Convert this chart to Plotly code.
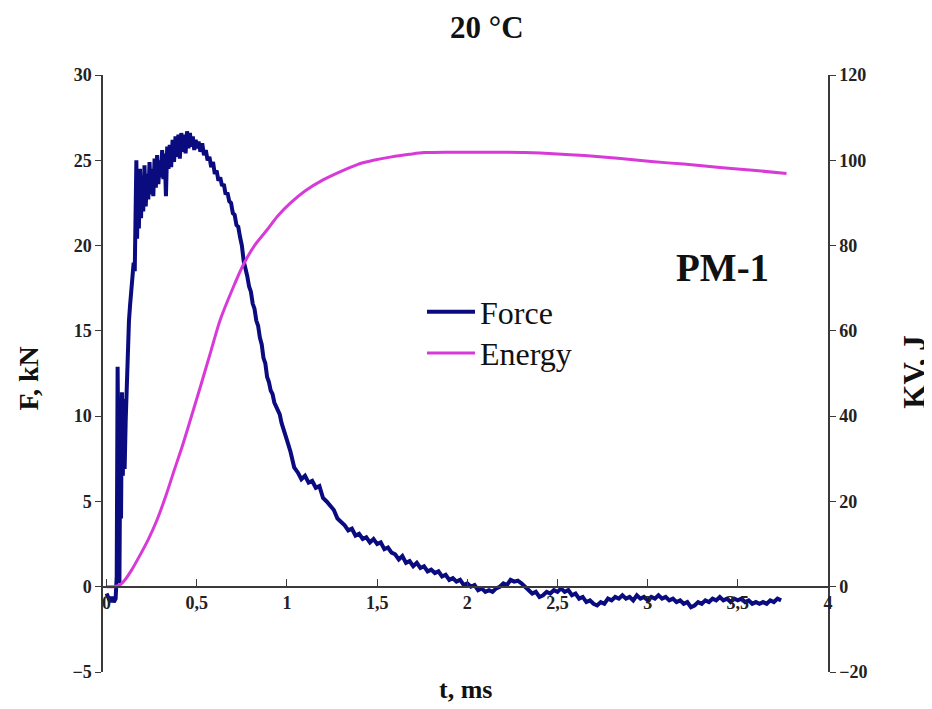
import plotly.graph_objects as go

# force curve, t in ms, F in kN
t_force = [0.000, 0.010, 0.020, 0.030, 0.040, 0.050, 0.056, 0.061, 0.066, 0.071,
           0.076, 0.080, 0.085, 0.090, 0.095, 0.100, 0.106, 0.112, 0.118, 0.124,
           0.130, 0.137, 0.144, 0.150, 0.156, 0.161, 0.165, 0.169, 0.174, 0.179,
           0.185, 0.191, 0.197, 0.203, 0.210, 0.217, 0.224, 0.231, 0.238, 0.245,
           0.252, 0.259, 0.266, 0.273, 0.280, 0.287, 0.294, 0.301, 0.308, 0.315,
           0.322, 0.329, 0.336, 0.343, 0.350, 0.358, 0.366, 0.374, 0.382, 0.390,
           0.398, 0.406, 0.414, 0.422, 0.430, 0.438, 0.446, 0.454, 0.462, 0.470,
           0.478, 0.486, 0.494, 0.502, 0.510, 0.520, 0.530, 0.540, 0.550, 0.560,
           0.570, 0.580, 0.590, 0.600, 0.610, 0.620, 0.630, 0.640, 0.650, 0.660,
           0.670, 0.680, 0.690, 0.700, 0.710, 0.720, 0.730, 0.740, 0.750, 0.760,
           0.770, 0.780, 0.790, 0.800, 0.810, 0.820, 0.830, 0.840, 0.850, 0.860,
           0.870, 0.880, 0.890, 0.900, 0.910, 0.920, 0.930, 0.940, 0.950, 0.960,
           0.970, 0.980, 0.990,
           1.00, 1.02, 1.04, 1.06, 1.08, 1.10, 1.12, 1.14, 1.16, 1.18,
           1.20, 1.22, 1.24, 1.26, 1.28, 1.30, 1.32, 1.34, 1.36, 1.38,
           1.40, 1.42, 1.44, 1.46, 1.48, 1.50, 1.52, 1.54, 1.56, 1.58,
           1.60, 1.62, 1.64, 1.66, 1.68, 1.70, 1.72, 1.74, 1.76, 1.78,
           1.80, 1.82, 1.84, 1.86, 1.88, 1.90, 1.92, 1.94, 1.96, 1.98,
           2.00, 2.02, 2.04, 2.06, 2.08, 2.10, 2.12, 2.14, 2.16, 2.18,
           2.20, 2.22, 2.24, 2.26, 2.28, 2.30, 2.32, 2.34, 2.36, 2.38,
           2.40, 2.42, 2.44, 2.46, 2.48, 2.50, 2.52, 2.54, 2.56, 2.58,
           2.60, 2.62, 2.64, 2.66, 2.68, 2.70, 2.72, 2.74, 2.76, 2.78,
           2.80, 2.82, 2.84, 2.86, 2.88, 2.90, 2.92, 2.94, 2.96, 2.98,
           3.00, 3.02, 3.04, 3.06, 3.08, 3.10, 3.12, 3.14, 3.16, 3.18,
           3.20, 3.22, 3.24, 3.26, 3.28, 3.30, 3.32, 3.34, 3.36, 3.38,
           3.40, 3.42, 3.44, 3.46, 3.48, 3.50, 3.52, 3.54, 3.56, 3.58,
           3.60, 3.62, 3.64, 3.66, 3.68, 3.70, 3.72, 3.74]
force = [-0.4, -0.7, -0.9, -0.6, -0.9, -0.7, 0.6, 12.9, 2.0, 0.2,
         8.5, 4.0, 11.4, 6.5, 11.0, 6.9, 9.8, 12.5, 14.0, 15.6,
         16.5, 17.4, 18.2, 19.0, 18.5, 21.5, 25.0, 20.4, 24.0, 21.0,
         24.5, 21.6, 24.1, 22.0, 24.7, 22.3, 24.2, 22.7, 24.9, 23.0,
         24.5, 22.9, 25.1, 23.4, 25.3, 23.6, 25.0, 24.0, 25.6, 23.9,
         25.4, 22.9, 25.8, 24.5, 25.9, 24.6, 26.2, 24.9, 26.4, 25.2,
         26.5, 25.1, 26.6, 25.5, 26.5, 25.4, 26.7, 25.7, 26.6, 25.8,
         26.4, 25.6, 26.2, 25.7, 26.1, 25.5, 26.0, 25.3, 25.6, 25.0,
         25.2, 24.6, 24.9, 24.2, 24.4, 23.8, 24.0, 23.5, 23.6, 23.0,
         23.1, 22.6, 22.5, 21.9, 21.8, 21.2, 21.1, 20.5, 20.0, 19.1,
         18.7, 18.2, 17.6, 17.3, 16.6, 16.3, 15.6, 15.3, 14.6, 14.2,
         13.4, 13.1, 12.3, 12.0, 11.5, 11.3, 10.8, 10.6, 10.3, 10.1,
         9.6, 9.3, 8.9,
         8.6, 7.9, 7.0, 6.7, 6.3, 6.5, 6.1, 6.2, 5.8, 5.9,
         5.2, 5.0, 4.7, 4.5, 4.0, 3.8, 3.6, 3.3, 3.4, 3.0,
         3.1, 2.8, 2.9, 2.6, 2.8, 2.5, 2.6, 2.2, 2.3, 2.0,
         1.9, 1.6, 1.8, 1.4, 1.5, 1.2, 1.4, 1.1, 1.2, 0.9,
         1.0, 0.8, 0.9, 0.6, 0.7, 0.4, 0.5, 0.3, 0.4, 0.1,
         0.2, 0.0, 0.1, -0.2, -0.1, -0.3, -0.2, -0.3, -0.1, 0.0,
         0.2, 0.1, 0.4, 0.3, 0.35, 0.2, 0.0, -0.2, -0.4, -0.3,
         -0.6, -0.5, -0.3, -0.4, -0.2, -0.3, -0.1, -0.3, -0.2, -0.5,
         -0.4, -0.7, -0.6, -0.9, -0.8, -1.0, -1.1, -0.9, -1.0, -0.7,
         -0.8, -0.6, -0.7, -0.5, -0.7, -0.6, -0.8, -0.5, -0.7, -0.6,
         -0.8, -0.6, -0.7, -0.5, -0.7, -0.6, -0.8, -0.7, -0.9, -0.8,
         -1.0, -0.9, -1.2, -1.1, -0.9, -1.0, -0.8, -0.9, -0.7, -0.8,
         -0.6, -0.8, -0.7, -0.9, -0.7, -0.8, -0.7, -0.9, -0.8, -1.0,
         -0.9, -1.0, -0.9, -1.0, -0.8, -0.9, -0.7, -0.8]

# absorbed energy, KV in J
t_energy = [0.00, 0.04, 0.07, 0.10, 0.14, 0.18, 0.23, 0.28, 0.33, 0.37,
            0.42, 0.46, 0.52, 0.58, 0.63, 0.70, 0.758, 0.82, 0.89, 0.95,
            1.02, 1.10, 1.20, 1.30, 1.39, 1.48, 1.58, 1.68, 1.76, 1.91,
            2.10, 2.32, 2.50, 2.65, 2.85, 3.02, 3.20, 3.40, 3.60, 3.77]
energy = [0.0, 0.0, 0.3, 1.5, 4.0, 7.0, 11.0, 15.7, 21.5, 26.7,
          33.0, 38.5, 46.9, 55.5, 62.6, 70.0, 75.5, 80.0, 83.7, 87.0,
          90.0, 92.8, 95.4, 97.4, 99.0, 100.0, 100.8, 101.4, 101.8, 101.9,
          101.9, 101.8, 101.5, 101.1, 100.4, 99.7, 99.1, 98.3, 97.6, 96.9]

x_ticks = [0, 0.5, 1, 1.5, 2, 2.5, 3, 3.5, 4]
x_ticktext = ["0", "0,5", "1", "1,5", "2", "2,5", "3", "3,5", "4"]

serif = "Liberation Serif"
axis_col = "#3a3a3a"
tickfont = dict(family=serif, size=18, color="#222", weight="bold")

fig = go.Figure()
fig.add_trace(go.Scatter(x=t_force, y=force, mode="lines", name="Force",
                         line=dict(color="#0b0b80", width=4), legend="legend"))
fig.add_trace(go.Scatter(x=t_energy, y=energy, mode="lines", name="Energy",
                         line=dict(color="#d83ad8", width=3, shape="spline", smoothing=0.8),
                         yaxis="y2", legend="legend2"))

legfont = dict(family=serif, size=32, color="#111")
# the page body adds 8px, so the figure is 8px smaller and margins shifted
fig.update_layout(
    width=924, height=701,
    margin=dict(l=95, r=104, t=67, b=37),
    paper_bgcolor="white", plot_bgcolor="white",
    showlegend=True,
    xaxis=dict(range=[-0.02, 4.0], anchor="free", position=0.1428,
               tickvals=x_ticks, ticktext=x_ticktext, ticks="inside", ticklen=7,
               tickcolor=axis_col, showline=True, linecolor=axis_col, linewidth=1.5,
               showgrid=False, zeroline=False, tickfont=tickfont),
    yaxis=dict(range=[-5, 30], dtick=5, ticks="outside", ticklen=6, tickcolor=axis_col,
               showline=True, linecolor=axis_col, linewidth=1.5, showgrid=False,
               zeroline=False, tickfont=tickfont),
    yaxis2=dict(range=[-20, 120], dtick=20, overlaying="y", side="right",
                ticks="outside", ticklen=6, tickcolor=axis_col, showline=True,
                linecolor=axis_col, linewidth=1.5, showgrid=False, zeroline=False,
                tickfont=tickfont),
    legend=dict(x=0.44, y=0.603, xanchor="left", yanchor="middle", font=legfont,
                bgcolor="rgba(0,0,0,0)", itemwidth=48),
    legend2=dict(x=0.44, y=0.534, xanchor="left", yanchor="middle", font=legfont,
                 bgcolor="rgba(0,0,0,0)", itemwidth=48),
)

def note(text, x, y, size, angle=0):
    fig.add_annotation(text=text, x=x, y=y, xref="paper", yref="paper",
                       xanchor="center", yanchor="middle",
                       showarrow=False, textangle=angle,
                       font=dict(family=serif, size=size, color="#111", weight="bold"))

note("20 °C", 0.53, 1.079, 31)
note("PM-1", 0.854, 0.677, 39)
note("t, ms", 0.50, -0.03, 26)
note("F, kN", -0.103, 0.492, 28, -90)
note("KV, J", 1.12, 0.503, 31, -90)

fig.write_html("out.html")
